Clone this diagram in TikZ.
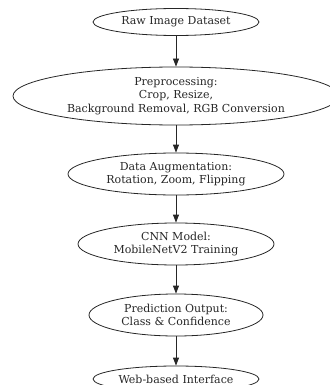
\documentclass[tikz,border=0pt]{standalone}
\usepackage{fontspec}
\setmainfont{DejaVu Serif}
\usetikzlibrary{shapes.geometric,arrows.meta}

\tikzset{
  stage/.style={ellipse, draw=black!85, line width=0.8pt, inner sep=0pt,
    align=center, text=black!85,
    font=\fontsize{11}{13.3}\selectfont},
  flow/.style={draw=black!85, line width=0.8pt,
    -{Triangle[length=8pt,width=6pt]}},
}

\begin{document}
\begin{tikzpicture}[x=1pt,y=-1pt]
  % page frame, 329 x 385
  \useasboundingbox (0,0) rectangle (329,385);

  \node[stage, minimum width=166pt, minimum height=27pt] (raw) at (176,22)
    {Raw Image Dataset};
  \node[stage, minimum width=326pt, minimum height=58pt] (prep) at (176,96)
    {Preprocessing:\\Crop, Resize,\\Background Removal, RGB Conversion};
  \node[stage, minimum width=216pt, minimum height=42pt] (aug) at (176,174)
    {Data Augmentation:\\Rotation, Zoom, Flipping};
  \node[stage, minimum width=196pt, minimum height=42pt] (cnn) at (176,244)
    {CNN Model:\\MobileNetV2 Training};
  \node[stage, minimum width=174pt, minimum height=42pt] (pred) at (176,315)
    {Prediction Output:\\Class \& Confidence};
  \node[stage, minimum width=166pt, minimum height=26pt] (web) at (176,379)
    {Web-based Interface};

  \draw[flow] (raw) -- (prep);
  \draw[flow] (prep) -- (aug);
  \draw[flow] (aug) -- (cnn);
  \draw[flow] (cnn) -- (pred);
  \draw[flow] (pred) -- (web);
\end{tikzpicture}
\end{document}
